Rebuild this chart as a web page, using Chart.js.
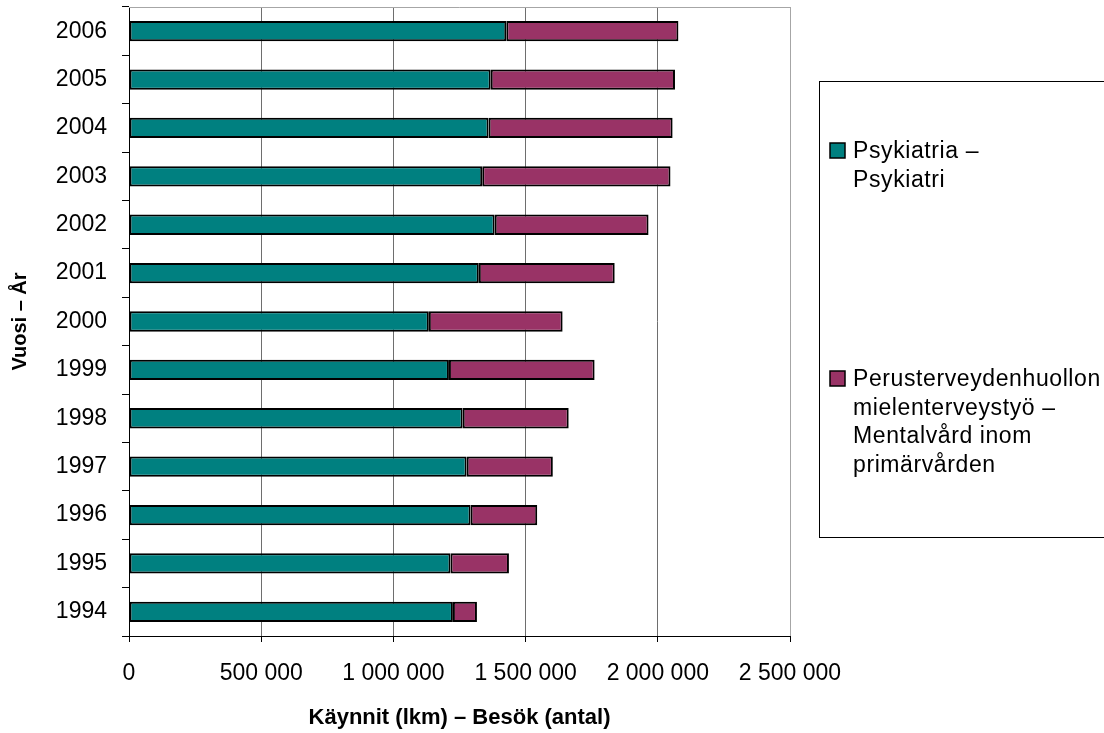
<!DOCTYPE html>
<html>
<head>
<meta charset="utf-8">
<script src="https://cdn.jsdelivr.net/npm/chart.js@4/dist/chart.umd.min.js"></script>
<style>
  html, body { margin: 0; padding: 0; background: #ffffff; }
  #c { display: block; }
</style>
</head>
<body>
<canvas id="c" width="1104" height="733"></canvas>
<script>
// Mental health care visits per year, stacked by sector
const years = ['1994', '1995', '1996', '1997', '1998', '1999', '2000',
               '2001', '2002', '2003', '2004', '2005', '2006'];
const psykiatria = [1225000, 1216000, 1292000, 1277000, 1262000, 1210000, 1134000,
                    1323000, 1383000, 1336000, 1360000, 1368000, 1427000];
const perusterveydenhuolto = [91000, 221000, 252000, 326000, 401000, 551000, 506000,
                              514000, 582000, 712000, 696000, 697000, 651000];
const xTicks = [0, 500000, 1000000, 1500000, 2000000, 2500000];

const seriesNames = [
  ['Psykiatria –', 'Psykiatri'],
  ['Perusterveydenhuollon', 'mielenterveystyö –', 'Mentalvård inom', 'primärvården']
];
const seriesColors = ['#008080', '#993366'];

const FONT = '"Liberation Sans", Arial, sans-serif';

function spaced(v) {
  return String(v).replace(/\B(?=(\d{3})+(?!\d))/g, ' ');
}

// Light frame on the top and right of the plot
const framePlugin = {
  id: 'frame',
  beforeDatasetsDraw(chart) {
    const { ctx, chartArea: a } = chart;
    ctx.save();
    ctx.strokeStyle = '#a6a6a6';
    ctx.lineWidth = 1;
    ctx.beginPath();
    ctx.moveTo(a.left, a.top + 0.5);
    ctx.lineTo(a.right + 0.5, a.top + 0.5);
    ctx.lineTo(a.right + 0.5, a.bottom);
    ctx.stroke();
    ctx.restore();
  }
};

// Boxed legend on the right, with wrapped series names
const legendPlugin = {
  id: 'sideLegend',
  afterDraw(chart) {
    const ctx = chart.ctx;
    ctx.save();
    ctx.strokeStyle = '#000000';
    ctx.lineWidth = 1;
    ctx.strokeRect(819.5, 81.5, 300, 456);
    const starts = [158, 386];
    const lineGap = 28.5;
    ctx.font = '23px ' + FONT;
    ctx.letterSpacing = '0.6px';
    ctx.textAlign = 'left';
    ctx.textBaseline = 'alphabetic';
    seriesNames.forEach((lines, i) => {
      const base = starts[i];
      ctx.fillStyle = seriesColors[i];
      ctx.fillRect(830, base - 15, 15, 15);
      ctx.strokeStyle = '#000000';
      ctx.lineWidth = 1.5;
      ctx.strokeRect(830, base - 15, 15, 15);
      ctx.fillStyle = '#000000';
      lines.forEach((t, j) => {
        ctx.fillText(t, 853, base + j * lineGap);
      });
    });
    ctx.restore();
  }
};

new Chart(document.getElementById('c'), {
  type: 'bar',
  data: {
    labels: years,
    datasets: [
      {
        label: seriesNames[0].join(' '),
        data: psykiatria,
        backgroundColor: seriesColors[0],
        borderColor: '#000000',
        borderWidth: 2,
        borderSkipped: false
      },
      {
        label: seriesNames[1].join(' '),
        data: perusterveydenhuolto,
        backgroundColor: seriesColors[1],
        borderColor: '#000000',
        borderWidth: 2,
        borderSkipped: false
      }
    ]
  },
  options: {
    indexAxis: 'y',
    responsive: false,
    animation: false,
    devicePixelRatio: 1,
    layout: { padding: { left: 0, right: 314, top: 7, bottom: 0 } },
    categoryPercentage: 1,
    barPercentage: 0.42,
    plugins: {
      legend: { display: false },
      tooltip: { enabled: false }
    },
    scales: {
      x: {
        stacked: true,
        min: 0,
        max: 2500000,
        afterBuildTicks(scale) { scale.ticks = xTicks.map(v => ({ value: v })); },
        afterFit(scale) {
          scale.height = 97;
          scale.paddingLeft = 0;
          scale.paddingRight = 0;
        },
        grid: {
          color: (c) => c.index === xTicks.length - 1 ? '#a6a6a6' : '#6e6e6e',
          tickColor: '#000000',
          tickLength: 6,
          lineWidth: 1
        },
        border: { color: '#000000', width: 1 },
        ticks: {
          color: '#000000',
          font: { family: FONT, size: 23 },
          padding: 18,
          maxRotation: 0,
          autoSkip: false,
          callback: (v) => spaced(v)
        },
        title: {
          display: true,
          text: 'Käynnit (lkm) – Besök (antal)',
          color: '#000000',
          font: { family: FONT, size: 22, weight: 'bold' },
          padding: { top: 2, bottom: 2 }
        }
      },
      y: {
        stacked: true,
        reverse: true,
        afterFit(scale) {
          scale.width = 129;
          scale.paddingTop = 0;
          scale.paddingBottom = 0;
        },
        grid: {
          offset: true,
          drawOnChartArea: false,
          tickColor: '#000000',
          tickLength: 7
        },
        border: { color: '#000000', width: 1 },
        ticks: {
          color: '#000000',
          font: { family: FONT, size: 23 },
          padding: 15
        },
        title: {
          display: true,
          text: 'Vuosi – År',
          color: '#000000',
          font: { family: FONT, size: 20, weight: 'bold' },
          padding: { top: 8, bottom: 8 }
        }
      }
    }
  },
  plugins: [framePlugin, legendPlugin]
});
</script>
</body>
</html>
